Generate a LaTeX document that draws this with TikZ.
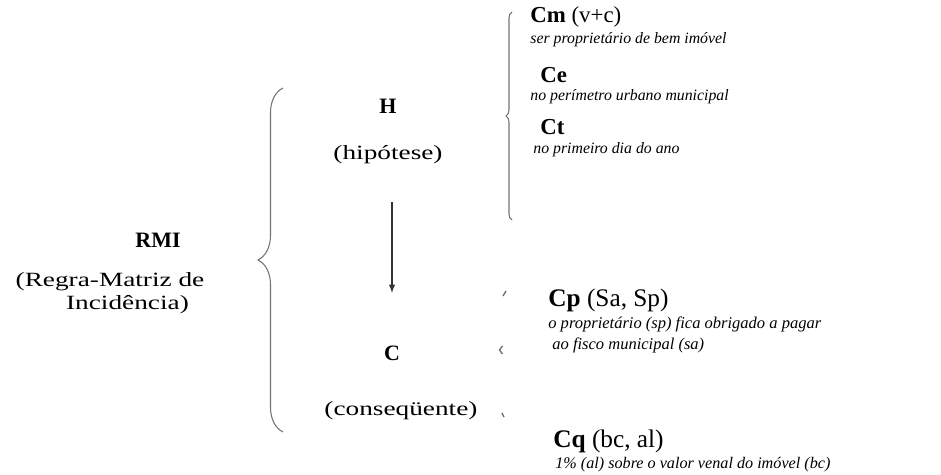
\documentclass[tikz,border=0pt]{standalone}
\usepackage{fontspec}
\setmainfont{Liberation Serif}
\newfontfamily\widefont[FakeStretch=1.35]{Liberation Serif}
\usetikzlibrary{decorations.pathreplacing}
\begin{document}
\begin{tikzpicture}[>=latex,
    txt/.style={font=\widefont\fontsize{11.5}{14}\selectfont, inner sep=0pt},
    hd/.style={font=\fontsize{12.5}{15}\selectfont\bfseries, inner sep=0pt},
    cond/.style={font=\fontsize{#1}{#1}\selectfont, anchor=west, inner sep=0pt},
    desc/.style={font=\fontsize{#1}{11}\selectfont\itshape, anchor=west, inner sep=0pt},
    brc/.style={draw=black!55, line width=0.6pt, decorate}]
  \useasboundingbox (0,0) rectangle (18.82,9.5);
  % left: the rule
  \node[hd] (rmi) at (3.16,4.70) {RMI};
  \node[txt] (regra) at (2.2,3.86) {(Regra-Matriz de};
  \node[txt] (incid) at (2.55,3.40) {Incidência)};
  \coordinate (bbot) at (5.66,0.86);
  \coordinate (btop) at (5.66,7.74);
  \draw[brc, decoration={brace, amplitude=0.5cm}] (bbot) -- (btop);
  % middle: hypothesis and consequent
  \node[hd] (h) at (7.76,7.38) {H};
  \node[txt] (hip) at (7.76,6.40) {(hipótese)};
  \node[hd] (c) at (7.84,2.44) {C};
  \node[txt] (cons) at (8.02,1.28) {(conseqüente)};
  \draw[->, black!80, line width=0.6pt, shorten <=0.75cm, shorten >=1.05cm] (c |- hip.south) -- (c.north);
  % upper right: criteria of the hypothesis
  \coordinate (ubot) at (10.24,5.10);
  \coordinate (utop) at (10.24,9.26);
  \draw[brc, decoration={brace, amplitude=0.12cm}] (ubot) -- (utop);
  \node[cond=13] (cm) at (10.60,9.16) {\textbf{Cm} (v+c)};
  \node[desc=9] (cmd) at (10.60,8.70) {ser proprietário de bem imóvel};
  \node[cond=13] (ce) at (10.80,8.00) {\textbf{Ce}};
  \node[desc=9] (ced) at (10.60,7.56) {no perímetro urbano municipal};
  \node[cond=13] (ct) at (10.80,6.96) {\textbf{Ct}};
  \node[desc=9] (ctd) at (10.66,6.50) {no primeiro dia do ano};
  % lower right: criteria of the consequent (brace only partly visible)
  \draw[black!60, line width=0.7pt] (10.06,3.58) -- (10.12,3.68);
  \draw[black!60, line width=0.7pt] (10.05,2.58) -- (9.99,2.50) -- (10.05,2.42);
  \draw[black!60, line width=0.7pt] (10.04,1.24) -- (10.08,1.16);
  \node[cond=14.4] (cp) at (10.96,3.50) {\textbf{Cp} (Sa, Sp)};
  \node[desc=9.4] (cpd) at (10.96,3.02) {o proprietário (sp) fica obrigado a pagar};
  \node[desc=9.4] (cpe) at (11.04,2.60) {ao fisco municipal (sa)};
  \node[cond=14.4] (cq) at (11.06,0.68) {\textbf{Cq} (bc, al)};
  \node[desc=9.2] (cqd) at (11.10,0.20) {1\% (al) sobre o valor venal do imóvel (bc)};
\end{tikzpicture}
\end{document}
